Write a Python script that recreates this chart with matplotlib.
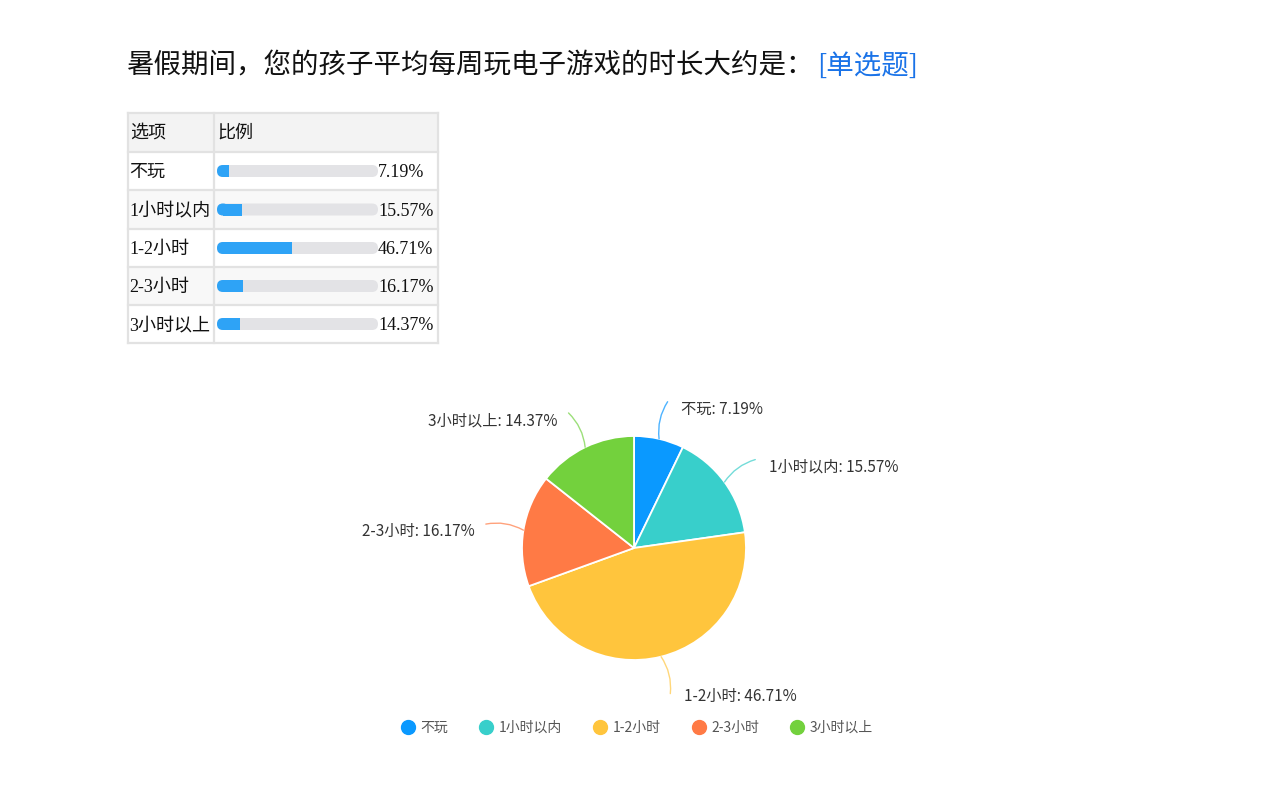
import matplotlib
matplotlib.use("Agg")
import matplotlib.pyplot as plt
import numpy as np
from matplotlib.patches import FancyBboxPatch, Rectangle
from matplotlib.lines import Line2D

plt.rcParams['font.family'] = ['Noto Sans CJK SC', 'DejaVu Sans']

# data
options = ['不玩', '1小时以内', '1-2小时', '2-3小时', '3小时以上']
percents = [7.19, 15.57, 46.71, 16.17, 14.37]
colors = ['#0a99ff', '#38cfcb', '#ffc53d', '#ff7a45', '#73d13d']
line_colors = ['#4db3ff', '#74dcd9', '#ffd77a', '#ffa27c', '#9cdf7a']
title = '暑假期间，您的孩子平均每周玩电子游戏的时长大约是：'
title_tag = '[单选题]'

W, H = 1267, 792
fig = plt.figure(figsize=(W / 100, H / 100), dpi=100)

# full-figure axes in pixel coordinates for title and table
base = fig.add_axes([0, 0, 1, 1])
base.set_xlim(0, W)
base.set_ylim(H, 0)
base.axis('off')

base.text(127, 66, title, fontsize=19.8, color='#111111', va='center', ha='left')
base.text(817, 66, title_tag, fontsize=19.8, color='#1a73e8', va='center', ha='left')

# table
serif = ['Liberation Serif', 'Noto Sans CJK SC']
col_x = [128, 214, 438]
row_y = [113, 152, 190, 229, 267, 305, 343]
border = '#e2e2e2'
base.add_patch(Rectangle((col_x[0], row_y[0]), col_x[2] - col_x[0], row_y[1] - row_y[0],
                         facecolor='#f3f3f3', edgecolor='none'))
for i in range(len(options)):
    if i % 2 == 1:
        base.add_patch(Rectangle((col_x[0], row_y[i + 1]), col_x[2] - col_x[0],
                                 row_y[i + 2] - row_y[i + 1], facecolor='#f8f8f8', edgecolor='none'))
for y in row_y:
    base.plot([col_x[0], col_x[2]], [y, y], color=border, lw=1.6)
for x in col_x:
    base.plot([x, x], [row_y[0], row_y[-1]], color=border, lw=1.6)

base.text(130, 133, '选项', fontsize=13, family=serif, va='center', color='#111111')
base.text(217, 133, '比例', fontsize=13, family=serif, va='center', color='#111111')

bar_x0, bar_len, bar_h = 217, 161, 12
for i, (opt, p) in enumerate(zip(options, percents)):
    yc = (row_y[i + 1] + row_y[i + 2]) / 2
    base.text(129, yc + 1.5, opt, fontsize=13, family=serif, va='center', color='#111111')
    # grey track, rounded ends
    base.add_patch(FancyBboxPatch((bar_x0, yc - bar_h / 2), bar_len, bar_h,
                                  boxstyle='round,pad=0,rounding_size=6',
                                  facecolor='#e3e3e6', edgecolor='none'))
    # blue fill, rounded on the left
    w = bar_len * p / 100
    base.add_patch(FancyBboxPatch((bar_x0, yc - bar_h / 2), 12, bar_h,
                                  boxstyle='round,pad=0,rounding_size=6',
                                  facecolor='#2ea3f6', edgecolor='none'))
    base.add_patch(Rectangle((bar_x0 + 6, yc - bar_h / 2), max(w - 6, 0), bar_h,
                             facecolor='#2ea3f6', edgecolor='none'))
    base.text(bar_x0 + bar_len, yc + 1.5, f'{p:.2f}%', fontsize=13, family='Liberation Serif',
              va='center', ha='left', color='#111111')

# pie axes: radius 1 == 112 px, centre at (634, 548)
R = 112
cx, cy = 634, 548
aw, ah = 640, 320
pie_ax = fig.add_axes([(cx - aw / 2) / W, (H - cy - ah / 2) / H, aw / W, ah / H])
wedges, _ = pie_ax.pie(percents, colors=colors, startangle=90, counterclock=False,
                       wedgeprops=dict(edgecolor='white', linewidth=1.3))
pie_ax.set_xlim(-aw / 2 / R, aw / 2 / R)
pie_ax.set_ylim(-ah / 2 / R, ah / 2 / R)
pie_ax.axis('off')

for k, wdg in enumerate(wedges):
    ang = np.deg2rad((wdg.theta1 + wdg.theta2) / 2)
    x0, y0 = np.cos(ang), np.sin(ang)
    x1, y1 = 1.34 * np.cos(ang), 1.34 * np.sin(ang)
    rad = 0.18 if x0 >= 0 else -0.18
    pie_ax.annotate('', xy=(x0, y0), xytext=(x1, y1),
                    arrowprops=dict(arrowstyle='-', color=line_colors[k], lw=1.0,
                                    shrinkA=0, shrinkB=0,
                                    connectionstyle=f'arc3,rad={rad}'))
    ha = 'left' if x0 >= 0 else 'right'
    tx = x1 + (0.12 if x0 >= 0 else -0.1)
    dy = -0.03 if y0 < -0.5 else -0.07
    pie_ax.text(tx, y1 + dy, f'{options[k]}: {percents[k]:.2f}%', fontsize=11,
                color='#333333', ha=ha, va='center')

handles = [Line2D([], [], marker='o', linestyle='none', markersize=10,
                  markerfacecolor=c, markeredgecolor=c) for c in colors]
fig.legend(handles, options, loc='center', bbox_to_anchor=(636 / W, 1 - 728 / H),
           ncol=5, frameon=False, fontsize=10, handletextpad=0.3, columnspacing=2.15,
           labelcolor='#555555', handlelength=1.2)

fig.savefig('out.png', dpi=100)
